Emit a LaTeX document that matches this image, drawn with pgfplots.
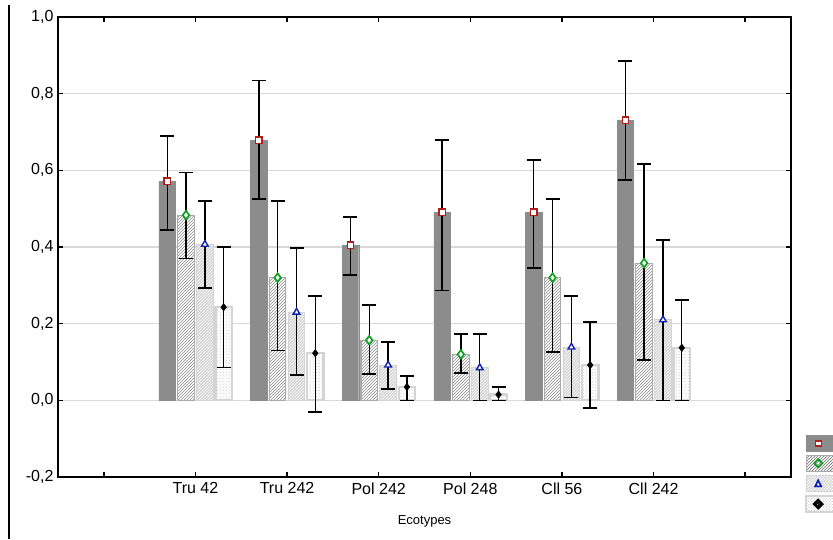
\documentclass[border=0pt]{standalone}
\usepackage{fontspec}
\setmainfont{Liberation Sans}
\usepackage{pgfplots}
\usepackage{pgfplotstable}
\pgfplotsset{compat=1.18}
\usetikzlibrary{patterns}

% x  value  err+  err-
\pgfplotstableread{
x  y      ep     em
1  0.572  0.118  0.128
2  0.679  0.156  0.154
3  0.405  0.073  0.078
4  0.491  0.188  0.204
5  0.491  0.136  0.146
6  0.731  0.154  0.156
}\seriesA
\pgfplotstableread{
x  y      ep     em
1  0.483  0.112  0.113
2  0.320  0.200  0.190
3  0.157  0.092  0.088
4  0.120  0.053  0.049
5  0.320  0.205  0.194
6  0.358  0.259  0.253
}\seriesB
\pgfplotstableread{
x  y      ep     em
1  0.407  0.113  0.114
2  0.230  0.167  0.164
3  0.092  0.060  0.062
4  0.085  0.088  0.085
5  0.139  0.133  0.131
6  0.210  0.208  0.210
}\seriesC
\pgfplotstableread{
x  y      ep     em
1  0.243  0.157  0.158
2  0.123  0.149  0.153
3  0.035  0.029  0.035
4  0.015  0.020  0.015
5  0.092  0.112  0.112
6  0.137  0.125  0.137
}\seriesD

\definecolor{darkbar}{HTML}{8C8C8C}
\definecolor{lightbar}{HTML}{D4D4D4}
\definecolor{mkred}{HTML}{B0201A}
\definecolor{mkgreen}{HTML}{10A020}
\definecolor{mkblue}{HTML}{1020B0}

\tikzset{
  barA/.style={fill=darkbar, draw=darkbar},
  barB/.style={fill=white, draw=lightbar!80!black, line width=1.2pt,
    postaction={pattern=north east lines, pattern color=gray!90}},
  barC/.style={fill=lightbar, draw=lightbar, line width=1pt,
    postaction={pattern=north east lines, pattern color=white}},
  barD/.style={fill=white, draw=lightbar, line width=2.2pt,
    postaction={pattern=crosshatch dots, pattern color=gray!35}},
}
\pgfplotsset{
  errs/.style={only marks, error bars/.cd, y dir=both, y explicit,
    error bar style={black, line width=1.4pt},
    error mark options={rotate=90, mark size=7pt, line width=1.4pt, black},
    /pgfplots/.cd},
  legA/.style={legend image code/.code={\draw[barA] (0pt,-8pt) rectangle (40pt,8pt);
    \draw[mkred, fill=white, line width=1.2pt] (9pt,-2.5pt) rectangle (15pt,2.5pt);}},
  legB/.style={legend image code/.code={\draw[barB] (0pt,-8pt) rectangle (40pt,8pt);
    \draw[mkgreen, fill=white, line width=1.6pt] (8pt,0) -- (12pt,4pt) -- (16pt,0) -- (12pt,-4pt) -- cycle;}},
  legC/.style={legend image code/.code={\draw[barC] (0pt,-8pt) rectangle (40pt,8pt);
    \draw[mkblue, fill=white, line width=1.5pt] (9pt,-3pt) -- (15pt,-3pt) -- (12pt,3pt) -- cycle;}},
  legD/.style={legend image code/.code={\draw[barD] (0pt,-8pt) rectangle (40pt,8pt);
    \fill[black] (8pt,0) -- (12pt,4pt) -- (16pt,0) -- (12pt,-4pt) -- cycle;}},
}

\begin{document}
\begin{tikzpicture}
\begin{axis}[
  scale only axis,
  width=733pt, height=460pt,
  xmin=-0.5, xmax=7.5,
  ymin=-0.2, ymax=1.0,
  xtick={0,...,7},
  xticklabels={,Tru 42,Tru 242,Pol 242,Pol 248,Cll 56,Cll 242,},
  ytick={-0.2,0,0.2,0.4,0.6,0.8,1.0},
  /pgf/number format/.cd, use comma, fixed, fixed zerofill, precision=1, assume math mode=true,
  /pgfplots/.cd,
  ymajorgrids,
  major grid style={gray!30, line width=1.5pt},
  axis line style={line width=1.4pt},
  major tick length=5pt,
  tick style={black, line width=1.4pt},
  tick label style={font=\fontsize{16}{18}\selectfont},
  xticklabel style={yshift=-2pt},
  yticklabel style={xshift=-1pt},
  xlabel={Ecotypes},
  xlabel style={font=\fontsize{13}{15}\selectfont, yshift=-14pt},
  legend style={at={(1.019,0.091)}, anchor=north west, draw=none, fill=none,
    inner sep=0pt, row sep=3pt, cells={anchor=west}},
]
\addplot[ybar, bar width=0.18, bar shift=-0.308, barA, legA]
  table[x=x, y=y] {\seriesA};
\addlegendentry{\mbox{}}
\addplot[ybar, bar width=0.18, bar shift=-0.103, barB, legB]
  table[x=x, y=y] {\seriesB};
\addlegendentry{\mbox{}}
\addplot[ybar, bar width=0.18, bar shift=0.103, barC, legC]
  table[x=x, y=y] {\seriesC};
\addlegendentry{\mbox{}}
\addplot[ybar, bar width=0.18, bar shift=0.308, barD, legD]
  table[x=x, y=y] {\seriesD};
\addlegendentry{\mbox{}}

% markers with error bars
\addplot[errs, mark=square*, mark size=3.2pt, mark options={draw=mkred, fill=white, line width=1.3pt}]
  table[x expr=\thisrow{x}-0.308, y=y, y error plus=ep, y error minus=em] {\seriesA};
\addplot[errs, mark=diamond*, mark size=4.3pt, mark options={draw=mkgreen, fill=white, line width=1.7pt}]
  table[x expr=\thisrow{x}-0.103, y=y, y error plus=ep, y error minus=em] {\seriesB};
\addplot[errs, mark=triangle*, mark size=3.8pt, mark options={draw=mkblue, fill=white, line width=1.4pt}]
  table[x expr=\thisrow{x}+0.103, y=y, y error plus=ep, y error minus=em] {\seriesC};
\addplot[errs, mark=diamond*, mark size=3.8pt, mark options={draw=black, fill=black}]
  table[x expr=\thisrow{x}+0.308, y=y, y error plus=ep, y error minus=em] {\seriesD};

\path (rel axis cs:0,0) coordinate (ll) (rel axis cs:1,1) coordinate (ur);
\end{axis}
\draw[line width=1.5pt] ([xshift=-49pt]ll |- ur) ++(0,12pt) -- ([xshift=-49pt,yshift=-62pt]ll);
\pgfresetboundingbox
\path[use as bounding box] ([shift={(-58pt,-62pt)}]ll) rectangle ([shift={(42pt,17pt)}]ur);
\end{tikzpicture}
\end{document}
